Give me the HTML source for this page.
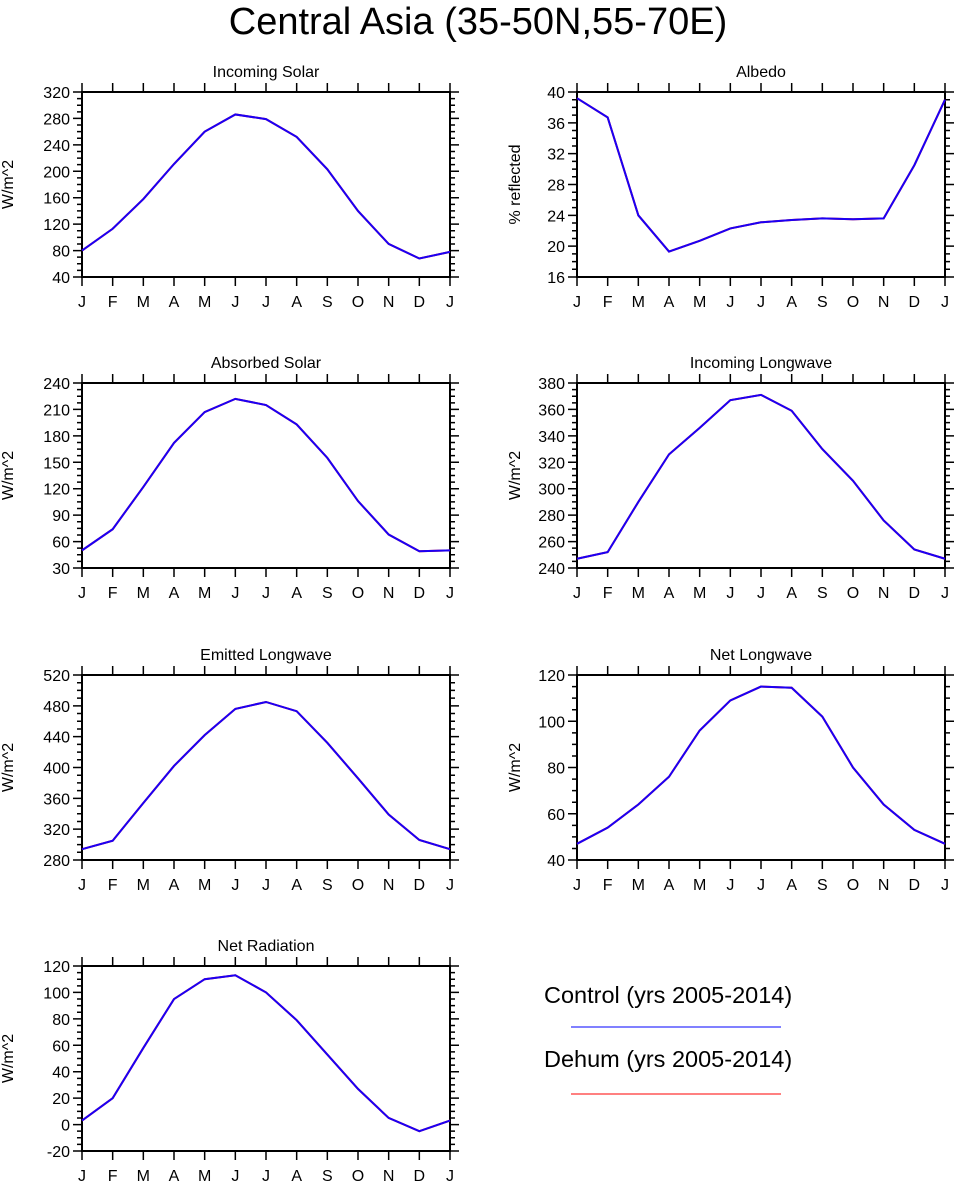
<!DOCTYPE html>
<html><head><meta charset="utf-8"><style>
body{margin:0;background:#fff}
svg text{font-family:"Liberation Sans",sans-serif;fill:#000}
</style></head><body>
<svg id="c" width="957" height="1187"></svg>
<script>
const months=["J","F","M","A","M","J","J","A","S","O","N","D","J"];
const incomingSolar=[80,113,158,211,260,286,279,252,203,140,90,68,78];
const albedo=[39.2,36.7,24,19.3,20.7,22.3,23.1,23.4,23.6,23.5,23.6,30.5,39];
const absorbedSolar=[50,74,122,172,207,222,215,193,155,106,68,49,50];
const incomingLW=[247,252,290,326,346,367,371,359,330,306,276,254,247];
const emittedLW=[294,305,354,402,442,476,485,473,432,386,339,306,294];
const netLW=[47,54,64,76,96,109,115,114.5,102,80,64,53,47];
const netRad=[3,20,58,95,110,113,100,79,53,27,5,-5,3];
const panels=[
 {t:"Incoming Solar",y:"W/m^2",d:incomingSolar,min:40,max:320,step:40,x0:82,y0:92},
 {t:"Albedo",y:"% reflected",d:albedo,min:16,max:40,step:4,x0:577,y0:92},
 {t:"Absorbed Solar",y:"W/m^2",d:absorbedSolar,min:30,max:240,step:30,x0:82,y0:383},
 {t:"Incoming Longwave",y:"W/m^2",d:incomingLW,min:240,max:380,step:20,x0:577,y0:383},
 {t:"Emitted Longwave",y:"W/m^2",d:emittedLW,min:280,max:520,step:40,x0:82,y0:675},
 {t:"Net Longwave",y:"W/m^2",d:netLW,min:40,max:120,step:20,x0:577,y0:675},
 {t:"Net Radiation",y:"W/m^2",d:netRad,min:-20,max:120,step:20,x0:82,y0:966}
];
const svg=document.getElementById('c');const NS="http://www.w3.org/2000/svg";
function mk(tag,attrs,parent,name){const e=document.createElementNS(NS,tag);for(const k in attrs)e.setAttribute(k,attrs[k]);


(parent||svg).appendChild(e);return e;}
const t=mk('text',{x:478,y:34,'font-size':38,'text-anchor':'middle'},svg,'main-title');t.textContent="Central Asia (35-50N,55-70E)";
const W=368,H=185;
panels.forEach((p,i)=>{
 const g=mk('g',{},svg,'panel-'+p.t.toLowerCase().replace(/ /g,'-'));
 const xs=k=>p.x0+k*W/12, ys=v=>p.y0+H-(v-p.min)/(p.max-p.min)*H;
 const tt=mk('text',{x:p.x0+W/2,y:p.y0-15,'font-size':16,'text-anchor':'middle'},g,'panel-title');tt.textContent=p.t;
 let path="";
 months.forEach((m,k)=>{const x=xs(k);path+=`M${x} ${p.y0}V${p.y0-9}M${x} ${p.y0+H}V${p.y0+H+9}`;
  const l=mk('text',{x:x,y:p.y0+H+30,'font-size':16,'text-anchor':'middle'},g,'x-tick-label');l.textContent=m;});
 const n=Math.round((p.max-p.min)/p.step);
 for(let j=0;j<=n*4;j++){const v=p.min+j*p.step/4;const y=ys(v);const L=j%4==0?9:5;
  path+=`M${p.x0} ${y}H${p.x0-L}M${p.x0+W} ${y}H${p.x0+W+L}`;
  if(j%4==0){const l=mk('text',{x:p.x0-12,y:y+6,'font-size':16,'text-anchor':'end'},g,'y-tick-label');l.textContent=Math.round(v);}}
 mk('path',{d:path,stroke:'#000','stroke-width':1.5,fill:'none'},g,'ticks');
 mk('rect',{x:p.x0,y:p.y0,width:W,height:H,fill:'none',stroke:'#000','stroke-width':2},g,'plot-frame');
 const yt=mk('text',{x:0,y:0,'font-size':16,'text-anchor':'middle',transform:`translate(${p.x0-(p.x0>300?57:69)},${p.y0+H/2}) rotate(-90)`},g,'y-axis-title');yt.textContent=p.y;
 const pts=p.d.map((v,k)=>xs(k)+','+ys(v)).join(' ');
 mk('polyline',{points:pts,stroke:'#ff0000','stroke-width':2,fill:'none'},g,'dehum-line');
 mk('polyline',{points:pts,stroke:'#1a00f5','stroke-width':2,fill:'none'},g,'control-line');
});
const l1=mk('text',{x:544,y:1003,'font-size':23.5},svg,'legend-control-label');l1.textContent="Control (yrs 2005-2014)";
mk('line',{x1:571,x2:781,y1:1027,y2:1027,stroke:'#0000ff','stroke-width':1},svg,'legend-control-line');
const l2=mk('text',{x:544,y:1067,'font-size':23.5},svg,'legend-dehum-label');l2.textContent="Dehum (yrs 2005-2014)";
mk('line',{x1:571,x2:781,y1:1094,y2:1094,stroke:'#ff0000','stroke-width':1},svg,'legend-dehum-line');
</script>
</body></html>
